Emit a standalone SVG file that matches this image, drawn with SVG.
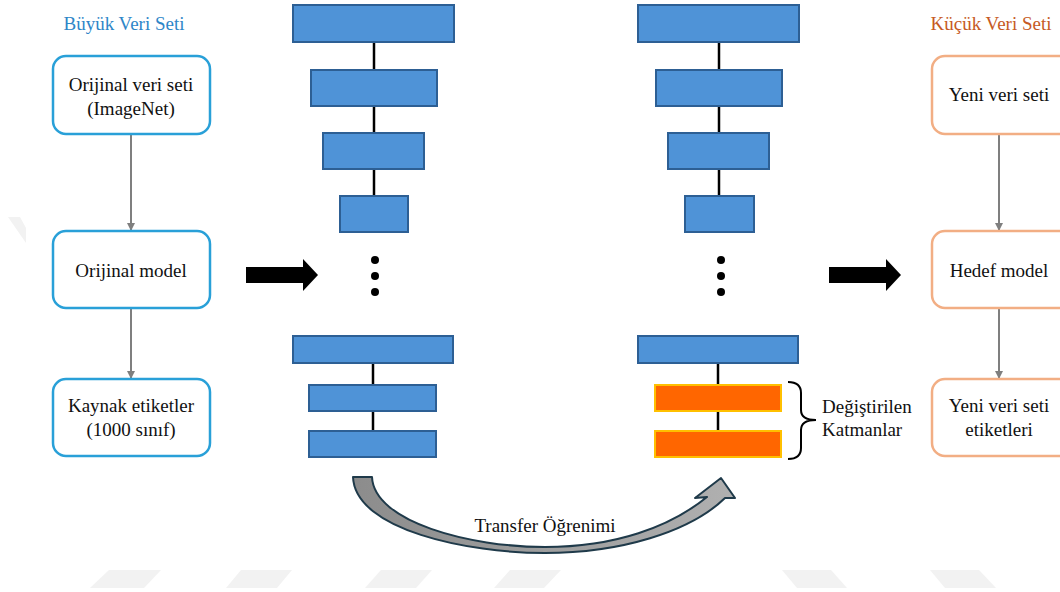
<svg xmlns="http://www.w3.org/2000/svg" width="1060" height="592" viewBox="0 0 1060 592">
<style>
text{font-family:"Liberation Serif","Times New Roman","DejaVu Serif",serif;font-size:19px;fill:#111;}
.ttl{text-anchor:middle;}
.c{text-anchor:middle;}
.boxL{fill:#fff;stroke:#29A0D8;stroke-width:2.5;}
.boxR{fill:#fff;stroke:#F2AE84;stroke-width:2.5;}
.layer{fill:#4F93D7;stroke:#2D5F94;stroke-width:2;}
.mod{fill:#FF6600;stroke:#FFC000;stroke-width:2;}
.link{stroke:#000;stroke-width:2.5;fill:none;}
.flow{stroke:#7F7F7F;stroke-width:2;fill:none;}
.wm{fill:#F2F2F2;}
.dot{fill:#000;}
</style>
<defs>
<marker id="ah" markerWidth="8" markerHeight="8" refX="7" refY="4" orient="auto" markerUnits="userSpaceOnUse">
<path d="M0,0 L8,4 L0,8 Z" fill="#7F7F7F"/>
</marker>
<linearGradient id="cg" x1="0" y1="0" x2="1" y2="0">
<stop offset="0" stop-color="#8C8C8C"/>
<stop offset="1" stop-color="#B0B0B0"/>
</linearGradient>
</defs>
<rect width="1060" height="592" fill="#fff"/>
<g id="watermark">
<polygon class="wm" points="109,570 161,570 144,588 90,588"/>
<polygon class="wm" points="241,570 292,570 277,588 226,588"/>
<polygon class="wm" points="381,570 432,570 416,588 365,588"/>
<polygon class="wm" points="510,570 561,570 544,588 494,588"/>
<polygon class="wm" points="782,570 831,570 847,588 797,588"/>
<polygon class="wm" points="930,570 979,570 996,588 945,588"/>
<polygon class="wm" points="8,217 20,217 26,228 26,243"/>
</g>
<g id="connectors">
<line class="flow" x1="131" y1="135" x2="131" y2="230" marker-end="url(#ah)"/>
<line class="flow" x1="131" y1="309" x2="131" y2="378" marker-end="url(#ah)"/>
<line class="flow" x1="999" y1="134" x2="999" y2="230" marker-end="url(#ah)"/>
<line class="flow" x1="999" y1="308" x2="999" y2="378" marker-end="url(#ah)"/>
<line class="link" x1="374" y1="42" x2="374" y2="70"/>
<line class="link" x1="374" y1="106" x2="374" y2="133"/>
<line class="link" x1="374" y1="169" x2="374" y2="196"/>
<line class="link" x1="373" y1="363" x2="373" y2="385"/>
<line class="link" x1="373" y1="411" x2="373" y2="431"/>
<line class="link" x1="719" y1="42" x2="719" y2="70"/>
<line class="link" x1="719" y1="106" x2="719" y2="133"/>
<line class="link" x1="719" y1="169" x2="719" y2="196"/>
<line class="link" x1="718" y1="363" x2="718" y2="385"/>
<line class="link" x1="718" y1="411" x2="718" y2="431"/>
<polygon id="arrow-left" points="246,267 303,267 303,259 318,275 303,291 303,283 246,283" fill="#000"/>
<polygon id="arrow-right" points="829,267 886,267 886,259 901,275 886,291 886,283 829,283" fill="#000"/>
<path id="transfer-arrow" d="M353,477 L372,477 C374,522 470,547 545,547 C615,547 670,527 707,497 L695,498 L721,478 L735,498 L725,498 C690,532 620,553 545,553 C468,553 355,530 353,477 Z" fill="url(#cg)" stroke="#1F3A4A" stroke-width="2" stroke-linejoin="round"/>
<text class="c" x="545" y="532">Transfer Öğrenimi</text>
</g>
<text class="ttl" x="124" y="30" style="fill:#2E86C8">Büyük Veri Seti</text>
<text class="ttl" x="991" y="30" style="fill:#C65A24">Küçük Veri Seti</text>
<g id="orijinal-veri-seti">
<rect class="boxL" x="53" y="56" width="157" height="78" rx="13"/>
<text class="c" x="131" y="91">Orijinal veri seti</text>
<text class="c" x="131" y="115">(ImageNet)</text>
</g>
<g id="orijinal-model">
<rect class="boxL" x="53" y="231" width="157" height="77" rx="13"/>
<text class="c" x="131" y="277">Orijinal model</text>
</g>
<g id="kaynak-etiketler">
<rect class="boxL" x="53" y="379" width="157" height="77" rx="13"/>
<text class="c" x="131" y="412">Kaynak etiketler</text>
<text class="c" x="131" y="436">(1000 sınıf)</text>
</g>
<g id="source-network">
<rect class="layer" x="293" y="5" width="161" height="37"/>
<rect class="layer" x="311" y="70" width="126" height="36"/>
<rect class="layer" x="323" y="133" width="101" height="36"/>
<rect class="layer" x="340" y="196" width="68" height="36"/>
<circle class="dot" cx="375" cy="260" r="4"/>
<circle class="dot" cx="375" cy="276" r="4"/>
<circle class="dot" cx="375" cy="292" r="4"/>
<rect class="layer" x="293" y="336" width="160" height="27"/>
<rect class="layer" x="309" y="385" width="127" height="26"/>
<rect class="layer" x="309" y="431" width="127" height="26"/>
</g>
<g id="target-network">
<rect class="layer" x="638" y="5" width="161" height="37"/>
<rect class="layer" x="656" y="70" width="126" height="36"/>
<rect class="layer" x="668" y="133" width="101" height="36"/>
<rect class="layer" x="685" y="196" width="69" height="36"/>
<circle class="dot" cx="721" cy="260" r="4"/>
<circle class="dot" cx="721" cy="276" r="4"/>
<circle class="dot" cx="721" cy="292" r="4"/>
<rect class="layer" x="638" y="336" width="160" height="27"/>
<rect class="mod" x="655" y="385" width="126" height="26"/>
<rect class="mod" x="655" y="431" width="126" height="26"/>
</g>
<g id="degistirilen-katmanlar">
<path d="M788,382 Q801,382 801,393 L801,410 Q801,420 816,420 Q801,420 801,430 L801,448 Q801,459 788,459" fill="none" stroke="#000" stroke-width="2"/>
<text x="822" y="413">Değiştirilen</text>
<text x="822" y="436">Katmanlar</text>
</g>
<g id="yeni-veri-seti">
<rect class="boxR" x="932" y="56" width="157" height="78" rx="13"/>
<text class="c" x="999" y="101">Yeni veri seti</text>
</g>
<g id="hedef-model">
<rect class="boxR" x="932" y="231" width="157" height="77" rx="13"/>
<text class="c" x="999" y="277">Hedef model</text>
</g>
<g id="yeni-veri-seti-etiketleri">
<rect class="boxR" x="932" y="379" width="157" height="77" rx="13"/>
<text class="c" x="999" y="412">Yeni veri seti</text>
<text class="c" x="999" y="436">etiketleri</text>
</g>
</svg>
